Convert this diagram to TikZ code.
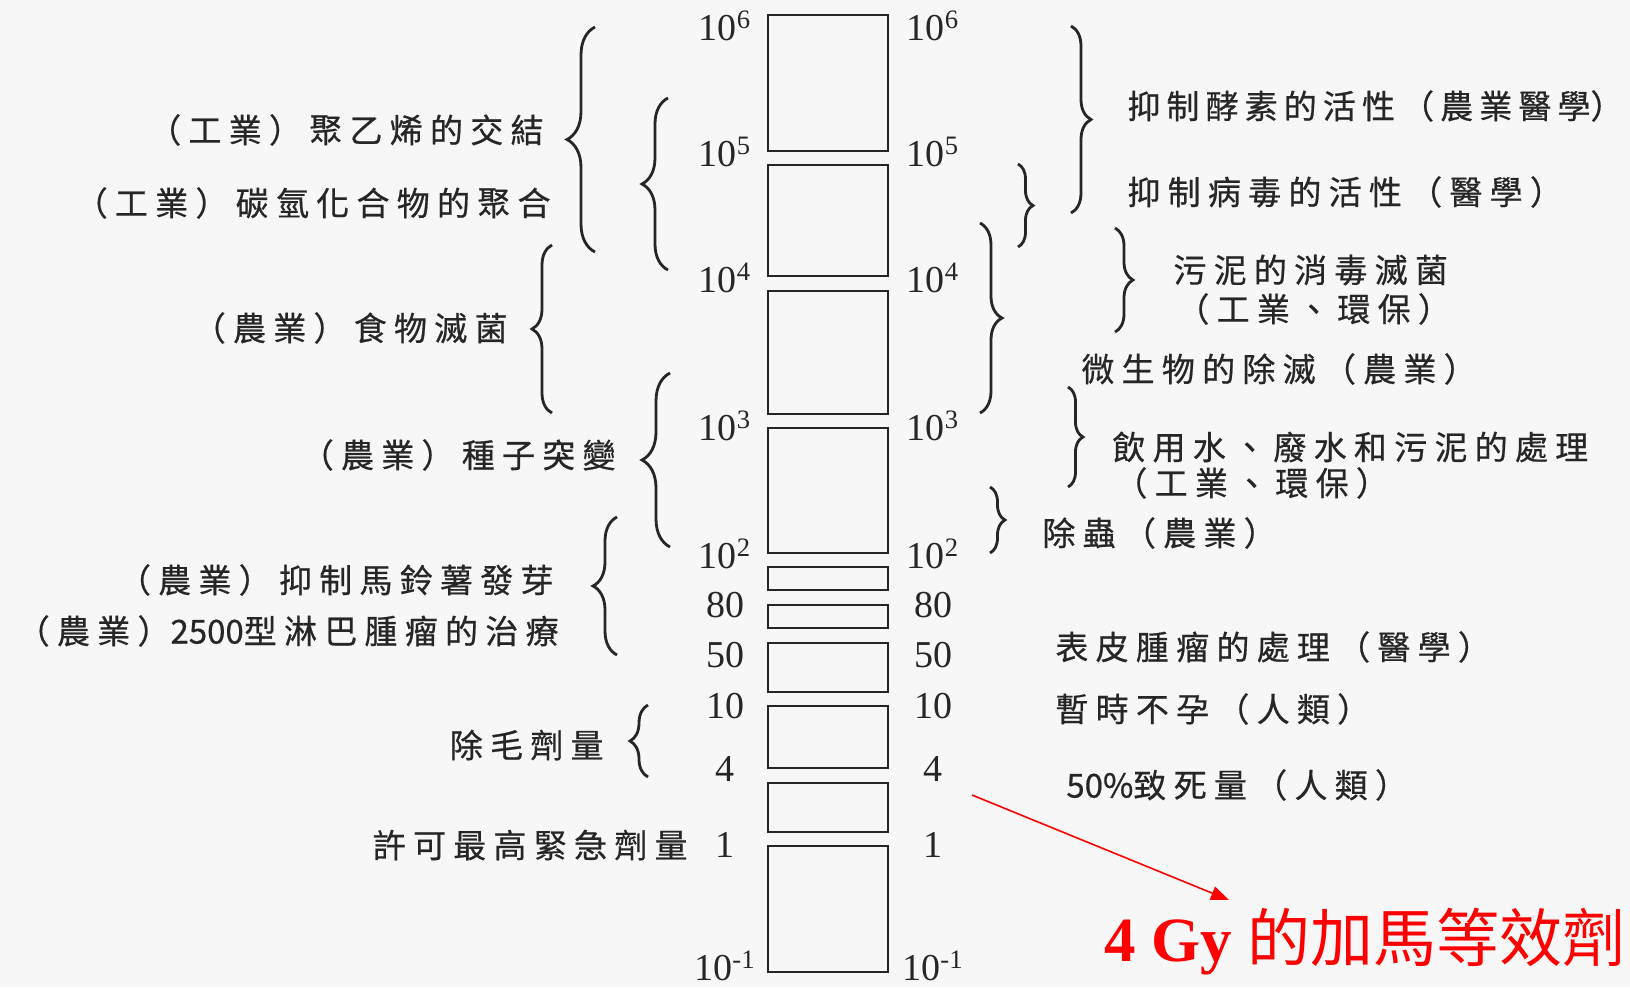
\documentclass[tikz,border=0pt]{standalone}
\usepackage{fontspec}
\newfontfamily\cjk[LetterSpace=22, FakeBold=0.6]{Noto Sans CJK TC}
\newfontfamily\cjkred{Noto Sans CJK TC}
\newfontfamily\gyfont{Liberation Serif}
\newcommand{\tight}[1]{{\addfontfeature{LetterSpace=0}#1}}
\usetikzlibrary{arrows.meta,decorations.pathreplacing}

\begin{document}
\begin{tikzpicture}[
    x=0.5pt, y=-0.5pt,
    bar/.style={draw=black!85, line width=1.1pt},
    tick/.style={font=\gyfont\fontsize{19}{22}\selectfont, text=black!85, inner sep=0pt},
    usage/.style={font=\cjk\fontsize{16.5}{19}\selectfont, text=black!85, inner sep=0pt},
    brc/.style={decorate, draw=black!85, line width=1.4pt, decoration={brace, amplitude=#1}},
    gyarrow/.style={-{Triangle[length=9pt, width=7pt]}, draw=red, line width=0.8pt},
]

\useasboundingbox[fill=black!3] (0,0) rectangle (1630,987);

% Dose scale
\foreach \t/\b in {15/151, 165/276, 291/414, 428/553, 567/590, 605/628, 643/692, 706/768, 783/832, 846/972}
  \draw[bar] (768,\t) rectangle (888,\b);

\foreach \v/\y [count=\i] in {10\textsuperscript{6}/26, 10\textsuperscript{5}/152, 10\textsuperscript{4}/278, 10\textsuperscript{3}/426, 10\textsuperscript{2}/554, 80/605, 50/655, 10/706, 4/769, 1/845, 10\textsuperscript{-1}/966} {
  \node[tick] (tl\i) at (725,\y) {\v};
  \node[tick] (tr\i) at (933,\y) {\v};
}

% Left uses
\node[usage, anchor=east] (pe) at (544,130) {（工業）聚乙烯的交結};
\node[usage, anchor=east] (hc) at (551,203) {（工業）碳氫化合物的聚合};
\node[usage, anchor=east] (food) at (508,328) {（農業）食物滅菌};
\node[usage, anchor=east] (seed) at (616,455) {（農業）種子突變};
\node[usage, anchor=east] (potato) at (554,580) {（農業）抑制馬鈴薯發芽};
\node[usage, anchor=east] (lymph) at (559,631) {（農業）\tight{2500}型淋巴腫瘤的治療};
\node[usage, anchor=east] (hair) at (604,745) {除毛劑量};
\node[usage, anchor=east] (emerg) at (688,845) {許可最高緊急劑量};

% Right uses
\node[usage, anchor=west] (enzyme) at (1127,106) {\addfontfeature{LetterSpace=18.5}抑制酵素的活性（農業醫學\tight{）}};
\node[usage, anchor=west] (virus) at (1127,192) {抑制病毒的活性（醫學）};
\node[usage, anchor=west] (sludge) at (1173,270) {污泥的消毒滅菌};
\node[usage, anchor=west] (sludgeb) at (1176,309) {（工業、環保）};
\node[usage, anchor=west] (microbe) at (1081,369) {微生物的除滅（農業）};
\node[usage, anchor=west] (water) at (1112,447) {飲用水、廢水和污泥的處理};
\node[usage, anchor=west] (waterb) at (1114,483) {（工業、環保）};
\node[usage, anchor=west] (insect) at (1042,533) {除蟲（農業）};
\node[usage, anchor=west] (skin) at (1055,647) {表皮腫瘤的處理（醫學）};
\node[usage, anchor=west] (steril) at (1055,709) {暫時不孕（人類）};
\node[usage, anchor=west] (lethal) at (1066,785) {\tight{50\%}致死量（人類）};

% Braces, left then right
\foreach \x/\t/\b/\a in {595/27/252/14pt, 668/98/270/13pt, 552/245/413/10pt, 670/373/547/14pt, 617/517/655/12pt, 648/705/777/9pt}
  \draw[brc=\a] (\x,\b) -- (\x,\t);
\foreach \x/\t/\b/\a in {1071/26/213/10pt, 1018/164/247/7.5pt, 980/223/413/11pt, 1115/228/332/9pt, 1068/387/487/7.5pt, 990/487/553/7.5pt}
  \draw[brc=\a] (\x,\t) -- (\x,\b);

% Note
\node[anchor=base west, text=red, inner sep=0pt] (gytxt) at (1104,961)
  {\gyfont\fontsize{31.5}{36}\selectfont{\bfseries 4 Gy} \cjkred 的加馬等效劑};
\coordinate (gyfrom) at (972,795);
\coordinate (gytip) at (1229,900);
\draw[gyarrow] (gyfrom) -- (gytip);

\end{tikzpicture}
\end{document}
